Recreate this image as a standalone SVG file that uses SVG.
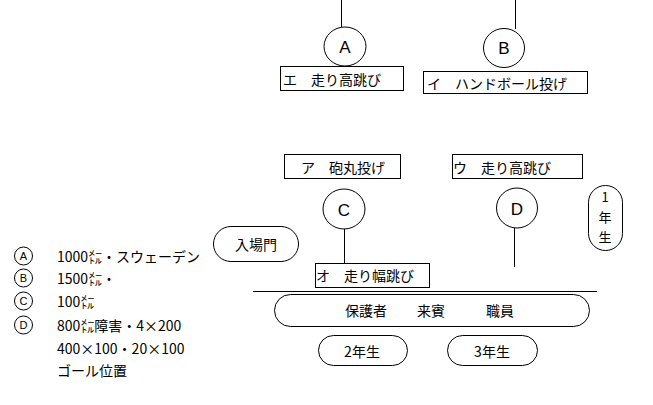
<svg xmlns="http://www.w3.org/2000/svg" width="653" height="405" viewBox="0 0 653 405">
<style>
.s{fill:#fff;stroke:#000;stroke-width:1}
.l{stroke:#000;stroke-width:1;fill:none}
.t{font-family:"Noto Sans CJK JP","Noto Sans",sans-serif;font-size:14px;fill:#000;dominant-baseline:central}
.v{font-size:13px}
.c{font-family:"Liberation Sans",Arial,sans-serif;font-size:17px;fill:#000;text-anchor:middle;dominant-baseline:central}
.lc{font-family:"Liberation Sans",Arial,sans-serif;font-size:11px;fill:#000;text-anchor:middle;dominant-baseline:central}
.m{text-anchor:middle}
</style>
<rect width="653" height="405" fill="#fff"/>
<g id="connectors">
<line class="l" x1="341.5" y1="0" x2="341.5" y2="27"/>
<line class="l" x1="515.5" y1="0" x2="515.5" y2="29"/>
<line class="l" x1="344.5" y1="229" x2="344.5" y2="263"/>
<line class="l" x1="514.5" y1="228" x2="514.5" y2="267"/>
<line class="l" x1="253" y1="291.5" x2="597" y2="291.5"/>
</g>
<g id="nodeA"><ellipse class="s" cx="345" cy="46.5" rx="21" ry="19.5"/><text class="c" x="345" y="47">A</text></g>
<g id="nodeB"><ellipse class="s" cx="504" cy="48" rx="20.5" ry="19.5"/><text class="c" x="504" y="48">B</text></g>
<g id="nodeC"><ellipse class="s" cx="344" cy="209" rx="21" ry="20"/><text class="c" x="344" y="210">C</text></g>
<g id="nodeD"><ellipse class="s" cx="517" cy="208" rx="20.5" ry="20"/><text class="c" x="517" y="209">D</text></g>
<g id="boxE"><rect class="s" x="280.5" y="66.5" width="123" height="24"/><text class="t" x="283" y="78.5">エ　走り高跳び</text></g>
<g id="boxI"><rect class="s" x="423.5" y="71.5" width="164" height="22"/><text class="t" x="427" y="82.5">イ　ハンドボール投げ</text></g>
<g id="boxA"><rect class="s" x="284.5" y="154.5" width="116" height="24"/><text class="t" x="301" y="166.5">ア　砲丸投げ</text></g>
<g id="boxU"><rect class="s" x="452.5" y="154.5" width="130" height="24"/><text class="t" x="453" y="166.5">ウ　走り高跳び</text></g>
<g id="boxO"><rect class="s" x="315.5" y="263.5" width="114" height="24"/><text class="t" x="316" y="275">オ　走り幅跳び</text></g>
<g id="gate"><rect class="s" x="213.5" y="226.5" width="85" height="35" rx="17.5"/><text class="t m" x="256" y="244">入場門</text></g>
<g id="grade1"><rect class="s" x="588.5" y="185.5" width="34" height="65" rx="17"/><text class="t m v" x="605" y="196">1</text><text class="t m v" x="605" y="216">年</text><text class="t m v" x="605" y="236">生</text></g>
<g id="seats"><rect class="s" x="274.5" y="294.5" width="315" height="32" rx="16"/><text class="t m" x="366" y="310">保護者</text><text class="t m" x="431" y="310">来賓</text><text class="t m" x="500" y="310">職員</text></g>
<g id="grade2"><rect class="s" x="318.5" y="335.5" width="89" height="30" rx="15"/><text class="t m" x="362" y="350.5">2年生</text></g>
<g id="grade3"><rect class="s" x="447.5" y="335.5" width="90" height="30" rx="15"/><text class="t m" x="492" y="350.5">3年生</text></g>
<g id="legend">
<circle class="s" cx="23.5" cy="256" r="9"/><text class="lc" x="23.5" y="256">A</text>
<circle class="s" cx="23.5" cy="278" r="9"/><text class="lc" x="23.5" y="278">B</text>
<circle class="s" cx="23.5" cy="301" r="9"/><text class="lc" x="23.5" y="301">C</text>
<circle class="s" cx="23.5" cy="325" r="9"/><text class="lc" x="23.5" y="325">D</text>
<text class="t" x="57" y="256">1000㍍・スウェーデン</text>
<text class="t" x="57" y="278">1500㍍・</text>
<text class="t" x="57" y="301">100㍍</text>
<text class="t" x="57" y="325">800㍍障害・4×200</text>
<text class="t" x="57" y="348">400×100・20×100</text>
<text class="t" x="57" y="370">ゴール位置</text>
</g>
</svg>
